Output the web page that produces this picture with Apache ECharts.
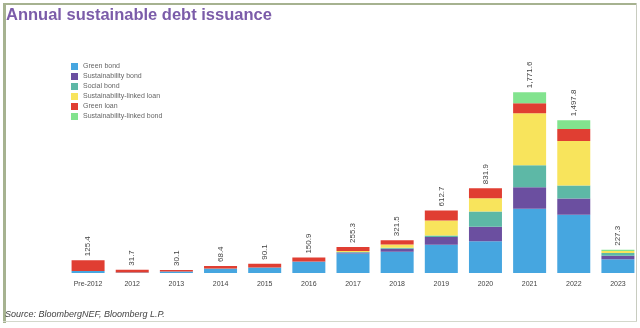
<!DOCTYPE html>
<html><head><meta charset="utf-8">
<script src="https://cdn.jsdelivr.net/npm/echarts@6/dist/echarts.min.js"></script>
<style>html,body{margin:0;padding:0;background:#fff}#c{width:640px;height:328px}</style>
</head><body><div id="c"></div>
<script>
var categories = ["Pre-2012","2012","2013","2014","2015","2016","2017","2018","2019","2020","2021","2022","2023"];
var greenBond = [20, 4, 15, 40, 55, 110, 190, 208, 278, 312, 629, 571, 135];
var sustainabilityBond = [0, 0, 0, 2, 0, 3, 12, 29, 76, 142, 212, 160, 35];
var socialBond = [0, 0, 0, 1, 0, 0, 5, 10, 13, 148, 215, 127, 25];
var sustainabilityLinkedLoan = [0, 0, 0, 0, 0, 0, 8, 33, 147, 131, 509, 435, 20];
var greenLoan = [105.4, 27.7, 15.1, 25.4, 35.1, 37.9, 40.3, 41.5, 98.7, 98.9, 98.6, 119.8, 0];
var sustainabilityLinkedBond = [0, 0, 0, 0, 0, 0, 0, 0, 0, 0, 108, 85, 12.3];
var totalLabels = ["125.4","31.7","30.1","68.4","90.1","150.9","255.3","321.5","612.7","831.9","1,771.6","1,497.8","227.3"];

var names = ["Green bond","Sustainability bond","Social bond","Sustainability-linked loan","Green loan","Sustainability-linked bond"];
var colors = ["#46a6e0","#6b4fa0","#5db8a6","#f8e45c","#e03e32","#82e38e"];
var datasets = [greenBond, sustainabilityBond, socialBond, sustainabilityLinkedLoan, greenLoan, sustainabilityLinkedBond];

var series = names.map(function(n,i){
  return {name:n,type:'bar',stack:'s',barWidth:33,data:datasets[i],itemStyle:{color:colors[i]},silent:true};
});
series.push({
  name:'Total',type:'bar',stack:'s',barWidth:33,
  data:categories.map(function(){return 0;}),
  label:{show:true,position:'top',rotate:90,align:'left',verticalAlign:'middle',distance:4,
    fontFamily:'Liberation Sans',fontSize:8,color:'#444',
    formatter:function(p){return totalLabels[p.dataIndex];}}
});

var chart = echarts.init(document.getElementById('c'));
chart.setOption({
  animation:false,
  backgroundColor:'#fff',
  title:{text:'Annual sustainable debt issuance',left:1,top:2,
    textStyle:{fontFamily:'Liberation Sans',fontSize:16.5,fontWeight:'bold',color:'#7b5ca9'}},
  legend:{data:names,orient:'vertical',left:66,top:58,itemWidth:7,itemHeight:7,itemGap:3,
    icon:'rect',textStyle:{fontFamily:'Liberation Sans',fontSize:7,color:'#666'}},
  grid:{left:66,right:-1,top:69,bottom:55},
  xAxis:{type:'category',data:categories,axisLine:{show:false},axisTick:{show:false},
    axisLabel:{fontFamily:'Liberation Sans',fontSize:7,color:'#444',margin:8}},
  yAxis:{type:'value',min:0,max:2000,show:false,splitLine:{show:false}},
  series:series,
  graphic:[
    {type:'rect',shape:{x:3,y:3,width:3,height:320},style:{fill:'#a6b290'}},
    {type:'rect',shape:{x:3,y:3,width:634,height:2},style:{fill:'#a6b290'}},
    {type:'rect',shape:{x:636,y:3,width:1,height:318},style:{fill:'#c8ccc0'}},
    {type:'rect',shape:{x:3,y:321,width:634,height:1},style:{fill:'#d4d8cc'}},
    {type:'text',left:5,top:310,style:{text:'Source: BloombergNEF, Bloomberg L.P.',fontFamily:'Liberation Sans',fontSize:9,fontStyle:'italic',fill:'#444'}}
  ]
});
</script></body></html>
